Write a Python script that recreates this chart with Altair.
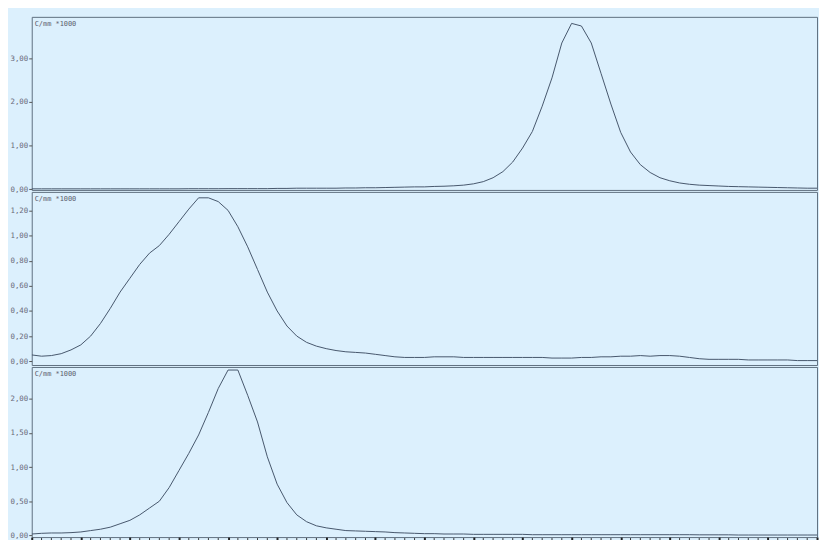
import altair as alt
import pandas as pd

x_vals = list(range(81))

top_vals = [0.005, 0.005, 0.005, 0.005, 0.005, 0.005, 0.005, 0.005, 0.005, 0.005,
            0.005, 0.005, 0.005, 0.005, 0.005, 0.005, 0.008, 0.008, 0.008, 0.008,
            0.01, 0.01, 0.01, 0.01, 0.01, 0.015, 0.015, 0.02, 0.02, 0.02,
            0.02, 0.02, 0.025, 0.025, 0.03, 0.03, 0.035, 0.04, 0.045, 0.05,
            0.05, 0.06, 0.065, 0.075, 0.09, 0.12, 0.17, 0.26, 0.4, 0.62,
            0.94, 1.32, 1.9, 2.55, 3.35, 3.8, 3.74, 3.35, 2.65, 1.95,
            1.3, 0.85, 0.56, 0.38, 0.26, 0.19, 0.14, 0.11, 0.09, 0.08,
            0.07, 0.06, 0.055, 0.05, 0.045, 0.04, 0.035, 0.03, 0.025, 0.02,
            0.02]

mid_vals = [0.05, 0.04, 0.045, 0.06, 0.09, 0.13, 0.2, 0.3, 0.42, 0.55,
            0.66, 0.77, 0.86, 0.92, 1.01, 1.11, 1.21, 1.3, 1.3, 1.27,
            1.2, 1.07, 0.91, 0.73, 0.55, 0.4, 0.28, 0.2, 0.15, 0.12,
            0.1, 0.085, 0.075, 0.07, 0.065, 0.055, 0.045, 0.035, 0.03, 0.03,
            0.03, 0.035, 0.035, 0.035, 0.03, 0.03, 0.03, 0.03, 0.03, 0.03,
            0.03, 0.03, 0.03, 0.025, 0.025, 0.025, 0.03, 0.03, 0.035, 0.035,
            0.04, 0.04, 0.045, 0.04, 0.045, 0.045, 0.04, 0.03, 0.02, 0.015,
            0.015, 0.015, 0.015, 0.01, 0.01, 0.01, 0.01, 0.01, 0.005, 0.005,
            0.005]

bot_vals = [0.02, 0.03, 0.035, 0.035, 0.04, 0.05, 0.07, 0.09, 0.12, 0.17,
            0.22, 0.3, 0.4, 0.5, 0.7, 0.95, 1.2, 1.47, 1.8, 2.15,
            2.42, 2.42, 2.05, 1.66, 1.15, 0.75, 0.48, 0.3, 0.2, 0.14,
            0.11, 0.09, 0.07, 0.065, 0.06, 0.055, 0.05, 0.04, 0.035, 0.03,
            0.025, 0.025, 0.02, 0.02, 0.02, 0.015, 0.015, 0.015, 0.015, 0.015,
            0.015, 0.01, 0.01, 0.01, 0.01, 0.01, 0.01, 0.01, 0.01, 0.01,
            0.01, 0.01, 0.01, 0.01, 0.01, 0.01, 0.01, 0.01, 0.008, 0.008,
            0.008, 0.008, 0.005, 0.005, 0.005, 0.005, 0.005, 0.005, 0.005, 0.005,
            0.005]

top_ticks = [0, 1, 2, 3]
mid_ticks = [0, 0.2, 0.4, 0.6, 0.8, 1.0, 1.2]
bot_ticks = [0, 0.5, 1.0, 1.5, 2.0]
x_major = list(range(0, 81, 5))
x_minor = [i for i in range(81) if i % 5 != 0]
unit_label = ["C/mm *1000"]

BG = "#dcf0fd"
LINE = "#46566b"
BORDER = "#5f6f80"
FONT = "DejaVu Sans Mono"
LABEL_EXPR = "replace(format(datum.value, '.2f'), '.', ',')"
W = 794


def panel(values, domain, ticks, height, show_x):
    df = pd.DataFrame({"x": x_vals, "y": values})
    xscale = alt.Scale(domain=[0, 80], nice=False, zero=False)
    if show_x:
        xaxis = alt.Axis(values=x_major, tickSize=3, tickWidth=2, tickColor="#222222",
                         labelFont=FONT, labelFontSize=7, labelColor="#6a6a7a",
                         labelFlush=True, domain=False, grid=False, labelPadding=3,
                         title=None)
    else:
        xaxis = None
    yaxis = alt.Axis(values=ticks, labelExpr=LABEL_EXPR, tickSize=3, tickColor="#555555",
                     labelFont=FONT, labelFontSize=7.5, labelColor="#6a6a7a",
                     domain=False, grid=False, minExtent=23, maxExtent=23,
                     labelPadding=1, title=None)
    line = alt.Chart(df).mark_line(color=LINE, strokeWidth=1, clip=True).encode(
        x=alt.X("x:Q", scale=xscale, axis=xaxis),
        y=alt.Y("y:Q", scale=alt.Scale(domain=domain, nice=False, zero=False), axis=yaxis),
    )
    txt = alt.Chart(pd.DataFrame({"t": unit_label})).mark_text(
        align="left", baseline="middle", font=FONT, fontSize=7, color="#5a5a6a"
    ).encode(x=alt.value(3), y=alt.value(7.5), text="t:N")
    layers = [line, txt]
    if show_x:
        minor = alt.Chart(pd.DataFrame({"x": x_minor})).mark_rule(
            color="#333333", strokeWidth=1
        ).encode(x=alt.X("x:Q", scale=xscale), y=alt.value(height + 1), y2=alt.value(height + 3))
        layers.append(minor)
    return alt.layer(*layers).properties(width=W, height=height)


p1 = panel(top_vals, [-0.02, 3.95], top_ticks, 175, False)
p2 = panel(mid_vals, [-0.03, 1.347], mid_ticks, 175, False)
p3 = panel(bot_vals, [-0.025, 2.465], bot_ticks, 172, True)

chart = alt.vconcat(p1, p2, p3, spacing=2, bounds="flush").properties(
    background=BG,
    padding={"top": 5, "left": 0, "right": 0, "bottom": -14},
).configure_view(stroke=BORDER, strokeWidth=1)

chart.save("out.html", embed_options={"renderer": "svg", "actions": False})
